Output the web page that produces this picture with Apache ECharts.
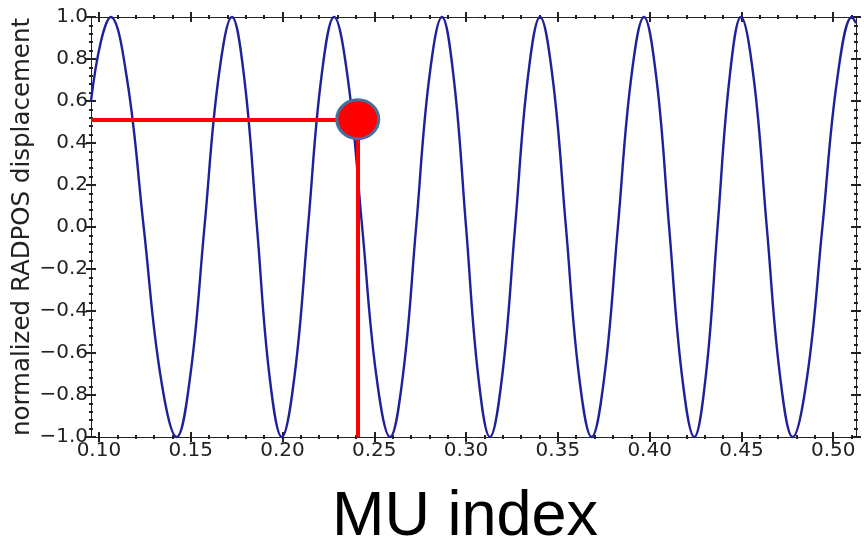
<!DOCTYPE html>
<html>
<head>
<meta charset="utf-8">
<script src="https://cdn.jsdelivr.net/npm/echarts@6/dist/echarts.min.js"></script>
<style>
  html, body { margin: 0; padding: 0; background: #fff; }
  #chart { width: 864px; height: 546px; }
</style>
</head>
<body>
<div id="chart"></div>
<script>
// normalized position of the MU (x) and the normalized RADPOS displacement (y)
const muPos = [
  0.0957, 0.1010, 0.1064, 0.1154, 0.1244, 0.1334, 0.1424, 0.1499, 0.1575, 0.1650,
  0.1725, 0.1793, 0.1861, 0.1928, 0.1996, 0.2067, 0.2139, 0.2210, 0.2281, 0.2357,
  0.2434, 0.2510, 0.2586, 0.2657, 0.2728, 0.2798, 0.2869, 0.2934, 0.3000, 0.3065,
  0.3130, 0.3198, 0.3267, 0.3335, 0.3403, 0.3473, 0.3544, 0.3614, 0.3684, 0.3755,
  0.3827, 0.3898, 0.3969, 0.4038, 0.4106, 0.4175, 0.4243, 0.4307, 0.4370, 0.4434,
  0.4497, 0.4568, 0.4638, 0.4709, 0.4779, 0.4860, 0.4941, 0.5021, 0.5102, 0.5124
];
const displacement = [
  0.60, 0.88, 1.00, 0.70, 0.00, -0.70, -1.00, -0.70, 0.00, 0.70,
  1.00, 0.70, 0.00, -0.70, -1.00, -0.70, 0.00, 0.70, 1.00, 0.70,
  0.00, -0.70, -1.00, -0.70, 0.00, 0.70, 1.00, 0.70, 0.00, -0.70,
  -1.00, -0.70, 0.00, 0.70, 1.00, 0.70, 0.00, -0.70, -1.00, -0.70,
  0.00, 0.70, 1.00, 0.70, 0.00, -0.70, -1.00, -0.70, 0.00, 0.70,
  1.00, 0.70, 0.00, -0.70, -1.00, -0.70, 0.00, 0.70, 1.00, 0.97
];

// tick labels
const xTicks = [0.10, 0.15, 0.20, 0.25, 0.30, 0.35, 0.40, 0.45, 0.50];
const yTicks = [-1.0, -0.8, -0.6, -0.4, -0.2, 0.0, 0.2, 0.4, 0.6, 0.8, 1.0];

// the highlighted MU
const markerMu = 0.2410;
const markerDisp = 0.513;

const X_MIN = 0.0957, X_MAX = 0.5124;
const Y_MIN = -1, Y_MAX = 1;

const xMinor = [];
for (let i = 10; i <= 51; i++) xMinor.push(i / 100);
const yMinor = [];
for (let i = -25; i <= 25; i++) yMinor.push(i * 4 / 100);

const fmt = v => v.toFixed(2);
const fmtY = v => (Math.abs(v) < 1e-9 ? 0 : v).toFixed(1).replace('-', '\u2212');

// one axis = one set of ticks on one side (matplotlib ticks sit on both sides of the spine)
const tickAxis = (pos, min, max, values, len, inside, opts = {}) => ({
  type: 'value',
  position: pos,
  min: min,
  max: max,
  axisLine: { show: !!opts.line, onZero: false, lineStyle: { color: '#222', width: 1 } },
  axisTick: { show: true, customValues: values, length: len, inside: inside, lineStyle: { color: '#222', width: 2 } },
  axisLabel: opts.labels ? {
    show: true,
    customValues: values,
    formatter: opts.formatter,
    margin: opts.margin,
    color: '#222',
    fontFamily: 'DejaVu Sans',
    fontSize: 20
  } : { show: false },
  splitLine: { show: false },
  name: opts.name || '',
  nameLocation: 'middle',
  nameGap: opts.nameGap,
  nameRotate: opts.nameRotate,
  nameMoveOverlap: false,
  nameTextStyle: { color: '#222', fontFamily: 'DejaVu Sans', fontSize: 24.5 }
});

const xAxes = [
  tickAxis('bottom', X_MIN, X_MAX, xTicks, 5, false, { line: true, labels: true, formatter: fmt, margin: 4 }),
  tickAxis('bottom', X_MIN, X_MAX, xTicks, 5, true),
  tickAxis('bottom', X_MIN, X_MAX, xMinor, 2, true),
  tickAxis('bottom', X_MIN, X_MAX, xMinor, 2, false),
  tickAxis('top', X_MIN, X_MAX, xTicks, 5, false, { line: true }),
  tickAxis('top', X_MIN, X_MAX, xTicks, 5, true),
  tickAxis('top', X_MIN, X_MAX, xMinor, 2, true),
  tickAxis('top', X_MIN, X_MAX, xMinor, 2, false)
];
const yAxes = [
  tickAxis('left', Y_MIN, Y_MAX, yTicks, 5, false, {
    line: true, labels: true, formatter: fmtY, margin: 3,
    name: 'normalized RADPOS displacement', nameGap: 56, nameRotate: 90
  }),
  tickAxis('left', Y_MIN, Y_MAX, yTicks, 5, true),
  tickAxis('left', Y_MIN, Y_MAX, yMinor, 2, true),
  tickAxis('left', Y_MIN, Y_MAX, yMinor, 2, false),
  tickAxis('right', Y_MIN, Y_MAX, yTicks, 5, false, { line: true }),
  tickAxis('right', Y_MIN, Y_MAX, yTicks, 5, true),
  tickAxis('right', Y_MIN, Y_MAX, yMinor, 2, true),
  tickAxis('right', Y_MIN, Y_MAX, yMinor, 2, false)
];

const chart = echarts.init(document.getElementById('chart'));
const option = {
  animation: false,
  backgroundColor: '#fff',
  grid: { left: 91, right: 8, top: 17, bottom: 109, outerBoundsMode: 'none' },
  xAxis: xAxes,
  yAxis: yAxes,
  series: [
    {
      type: 'line',
      xAxisIndex: 0,
      yAxisIndex: 0,
      data: muPos.map((x, i) => [x, displacement[i]]),
      smooth: 0.4,
      showSymbol: false,
      clip: false,
      lineStyle: { color: '#20209a', width: 2.4 },
      markLine: {
        silent: true,
        symbol: 'none',
        label: { show: false },
        lineStyle: { color: '#ff0000', width: 4, type: 'solid' },
        data: [
          [{ coord: [X_MIN, markerDisp] }, { coord: [markerMu, markerDisp] }],
          [{ coord: [markerMu, Y_MIN] }, { coord: [markerMu, markerDisp] }]
        ]
      },
      markPoint: {
        silent: true,
        symbol: 'circle',
        symbolSize: [42, 39],
        label: { show: false },
        itemStyle: { color: '#ff0000', borderColor: '#41719c', borderWidth: 3 },
        data: [{ coord: [markerMu, markerDisp] }]
      }
    }
  ],
  graphic: [
    {
      type: 'text',
      x: 465,
      y: 518,
      style: {
        text: 'MU index',
        fill: '#000',
        align: 'center',
        verticalAlign: 'middle',
        font: '63px "Liberation Sans", Arial, sans-serif'
      }
    }
  ]
};
chart.setOption(option);
</script>
</body>
</html>
